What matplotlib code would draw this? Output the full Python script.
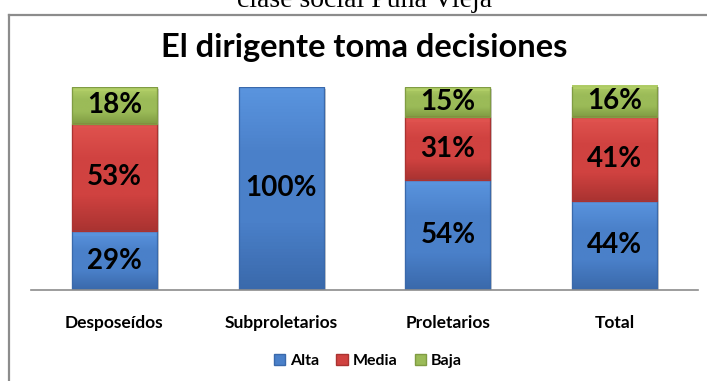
import matplotlib

matplotlib.use("Agg")
import matplotlib.pyplot as plt
import numpy as np
from matplotlib.colors import LinearSegmentedColormap
from matplotlib.patches import Rectangle

categories = ["Desposeídos", "Subproletarios", "Proletarios", "Total"]
alta = [29, 100, 54, 44]
media = [53, 0, 31, 41]
baja = [18, 0, 15, 16]
series_names = ["Alta", "Media", "Baja"]
title = "El dirigente toma decisiones"
page_text = "clase social Puña Vieja"

# light top / base / dark bottom for each series
shades = {
    "Alta": ("#5a94de", "#4a80c9", "#3a69ab"),
    "Media": ("#e0534f", "#d04240", "#aa3331"),
    "Baja": ("#b2cf68", "#9bbb58", "#809c43"),
}

plt.rcParams["font.family"] = ["Lato", "DejaVu Sans"]

fig = plt.figure(figsize=(7.07, 3.81), dpi=100)
ax = fig.add_axes([31 / 707, 1 - 290 / 381, 667 / 707, 203 / 381])

# chart frame, cut by the page edge
fig.add_artist(plt.Line2D([9 / 707, 1], [1 - 15 / 381] * 2, transform=fig.transFigure,
                          color="#8c8c8c", lw=1.6))
fig.add_artist(plt.Line2D([9 / 707] * 2, [0, 1 - 15 / 381], transform=fig.transFigure,
                          color="#8c8c8c", lw=1.6))
fig.text(0.515, 1 - 7 / 381, page_text, family="Liberation Serif", fontsize=20,
         ha="center", va="baseline")

x = np.arange(len(categories))
width = 0.51
bottom = np.zeros(len(categories))
gy = np.linspace(0, 1, 64).reshape(-1, 1)
for name, vals in zip(series_names, [alta, media, baja]):
    light, base, dark = shades[name]
    cmap = LinearSegmentedColormap.from_list(name, [dark, base, base, light])
    bars = ax.bar(x, vals, width, bottom=bottom, color=base, edgecolor=dark,
                  linewidth=0.8, zorder=2)
    for rect, v in zip(bars, vals):
        if v == 0:
            continue
        x0, y0 = rect.get_x(), rect.get_y()
        w, h = rect.get_width(), rect.get_height()
        im = ax.imshow(gy, extent=[x0, x0 + w, y0, y0 + h], origin="lower",
                       cmap=cmap, aspect="auto", zorder=2.5)
        im.set_clip_path(rect)
        # bevel highlight along the top edge
        ax.add_patch(Rectangle((x0, y0 + h - 2.2), w, 2.2, facecolor=light,
                               edgecolor="none", alpha=0.9, zorder=3))
        ax.add_patch(Rectangle((x0, y0), w, h, facecolor="none", edgecolor=dark,
                               linewidth=0.9, zorder=3.2))
        ax.add_patch(Rectangle((x0 + w, y0 - 0.8), 0.012, h, facecolor="#d0d0d0",
                               edgecolor="none", zorder=1))
        ax.text(x0 + w / 2, y0 + h / 2, f"{v}%", ha="center", va="center",
                fontsize=20, fontweight="bold", color="black", zorder=4)
    bottom += np.array(vals)

ax.set_xlim(-0.5, 3.5)
ax.set_ylim(0, 100)
ax.set_xticks(x)
ax.set_xticklabels(categories, fontsize=12.5, fontweight="bold")
ax.tick_params(axis="x", length=0, pad=18)
ax.set_yticks([])
for side in ["left", "right", "top"]:
    ax.spines[side].set_visible(False)
ax.spines["bottom"].set_color("#8c8c8c")
ax.spines["bottom"].set_linewidth(1.2)
ax.spines["bottom"].set_zorder(5)

fig.text(0.515, 1 - 48 / 381, title, ha="center", va="center", fontsize=23.5,
         fontweight="bold")

handles = [Rectangle((0, 0), 1, 1, facecolor=shades[n][1], edgecolor=shades[n][2])
           for n in series_names]
fig.legend(handles, series_names, loc="center", bbox_to_anchor=(0.52, 1 - 361 / 381),
           ncol=3, frameon=False, handlelength=0.7, handleheight=0.7,
           handletextpad=0.3, columnspacing=1.1, prop={"weight": "bold", "size": 11.5})

fig.savefig("out.png", dpi=100)
